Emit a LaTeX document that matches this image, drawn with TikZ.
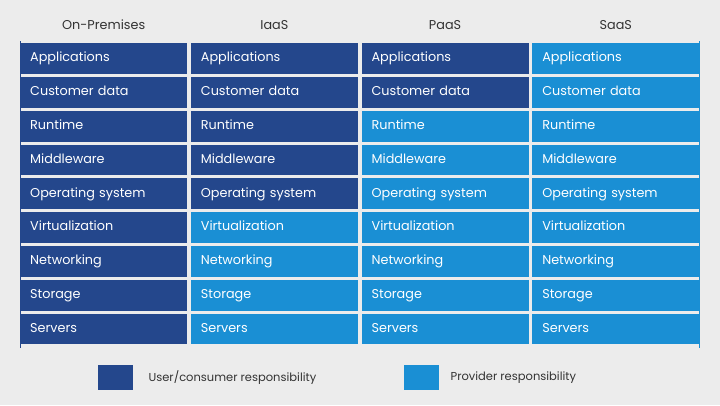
\documentclass[tikz,border=0pt]{standalone}
\usepackage{fontspec}
\setmainfont{Poppins}
\usetikzlibrary{positioning}
\definecolor{userblue}{HTML}{24478C}
\definecolor{provblue}{HTML}{1A8FD4}
\definecolor{bggray}{HTML}{ECECEC}
\definecolor{headgray}{HTML}{333333}
\tikzstyle{cell}=[anchor=north west,inner xsep=10pt,inner ysep=0pt,text width=147pt,minimum height=30.8pt,
    text height=9.5pt,text depth=3pt,align=left,text=white,font=\fontsize{12.8}{12.8}\selectfont]
\tikzstyle{head}=[inner sep=0pt,text=headgray,font=\fontsize{12.8}{12.8}\selectfont]
\tikzstyle{legbox}=[anchor=north west,minimum width=35pt,minimum height=25pt,inner sep=0pt]
\tikzstyle{legtext}=[inner sep=0pt,text=headgray,font=\fontsize{11.5}{11.5}\selectfont]

\begin{document}
\begin{tikzpicture}[x=1pt,y=-1pt]
    
    \fill[bggray] (0,0) rectangle (720,405);
    \useasboundingbox (0,0) rectangle (720,405);
    
    % columns: model / number of rows the user manages
    \foreach \model/\ndark [count=\i from 0] in {On-Premises/9,IaaS/5,PaaS/2,SaaS/0} {
        \foreach \layer [count=\j from 0] in {Applications,Customer data,Runtime,Middleware,Operating system,Virtualization,Networking,Storage,Servers} {
            \ifnum\j<\ndark\relax
                \node[cell,fill=userblue] (c-\i-\j) at ({20+170.7*\i},{43+33.8*\j}) {\layer};
            \else
                \node[cell,fill=provblue] (c-\i-\j) at ({20+170.7*\i},{43+33.8*\j}) {\layer};
            \fi
        }
        \node[head] (h-\i) [above=13pt of c-\i-0] {\model};
    }
    
    \draw[userblue,thin] ([yshift=2pt]c-0-0.north west) -- ([yshift=-3pt]c-0-8.south west);
    \draw[provblue,thin] ([yshift=2pt]c-3-0.north east) -- ([yshift=-3pt]c-3-8.south east);
    
    % legend
    \node[legbox,fill=userblue] (leg-user) at (98,365) {};
    \node[legtext] (lt-user) [right=15pt of leg-user] {User/consumer responsibility};
    \node[legbox,fill=provblue] (leg-prov) at (404,365) {};
    \node[legtext] (lt-prov) [right=11pt of leg-prov] {Provider responsibility};
    
\end{tikzpicture}
\end{document}
